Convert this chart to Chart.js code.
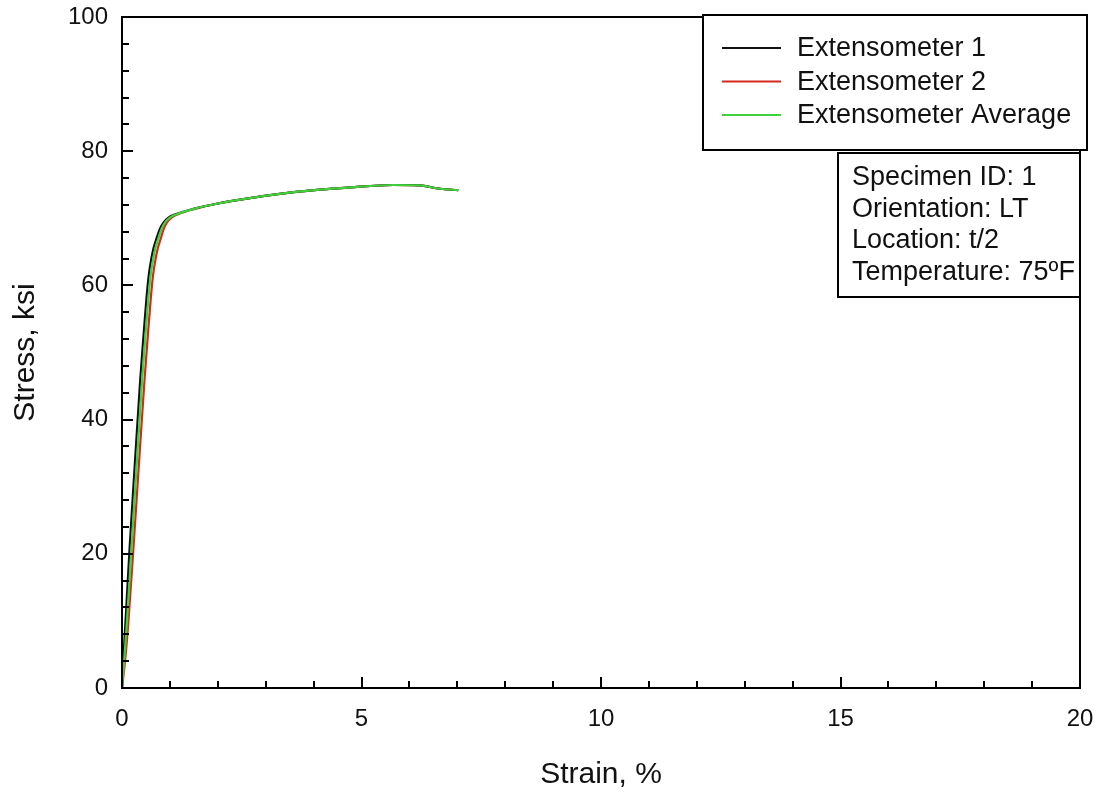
<!DOCTYPE html>
<html>
<head>
<meta charset="utf-8">
<script src="https://cdn.jsdelivr.net/npm/chart.js@4/dist/chart.umd.min.js"></script>
<style>
html,body{margin:0;padding:0;background:#fff;}
canvas{display:block;}
</style>
</head>
<body>
<canvas id="c" width="1101" height="794"></canvas>
<script>
// ---- Data ----
const seriesLabels = ["Extensometer 1", "Extensometer 2", "Extensometer Average"];
const stress      = [0, 4.5, 9.5, 21, 32.5, 45.9, 53.5, 58.0, 61.6, 63.9, 65.6, 67.0, 68.5, 69.4, 70.1, 70.6, 71.4, 72.2, 73.0, 74.0, 74.6, 74.96, 74.9, 74.4, 74.2];
const strainExt1  = [0, 0.03, 0.07, 0.16, 0.26, 0.38, 0.46, 0.51, 0.56, 0.61, 0.66, 0.72, 0.795, 0.87, 0.97, 1.115, 1.49, 2.0, 2.67, 3.72, 4.76, 5.66, 6.2, 6.64, 7.02];
const strainExt2  = [0, 0.07, 0.13, 0.24, 0.345, 0.47, 0.55, 0.60, 0.65, 0.70, 0.75, 0.81, 0.875, 0.94, 1.035, 1.17, 1.52, 2.0, 2.67, 3.72, 4.76, 5.66, 6.2, 6.64, 7.02];
const strainAvg   = [0, 0.05, 0.10, 0.20, 0.30, 0.42, 0.50, 0.55, 0.60, 0.65, 0.70, 0.76, 0.83, 0.90, 1.00, 1.14, 1.50, 2.0, 2.67, 3.72, 4.76, 5.66, 6.2, 6.64, 7.02];
const xTickLabels = [0, 5, 10, 15, 20];
const yTickLabels = [0, 20, 40, 60, 80, 100];
const infoLines   = ["Specimen ID: 1", "Orientation: LT", "Location: t/2", "Temperature: 75\u00BAF"];
const xTitle = "Strain, %";
const yTitle = "Stress, ksi";

const colors = ["#111111", "#d42a1e", "#3fd23c"];
const FONT = "'Liberation Sans', Arial, sans-serif";

function pts(xs, ys){ return xs.map((x,i)=>({x:x, y:ys[i]})); }

const frame = {
  id: 'frame',
  afterDatasetsDraw(chart){
    const ctx = chart.ctx, a = chart.chartArea;
    const xs = chart.scales.x, ys = chart.scales.y;
    ctx.save();
    ctx.strokeStyle = '#000';
    ctx.lineWidth = 2;
    ctx.strokeRect(a.left, a.top, a.right - a.left, a.bottom - a.top);
    ctx.beginPath();
    for (let v = 1; v < 20; v++){
      const px = Math.round(xs.getPixelForValue(v));
      const len = (v % 5 === 0) ? 11 : 7;
      ctx.moveTo(px, a.bottom); ctx.lineTo(px, a.bottom - len);
    }
    for (let v = 4; v < 100; v += 4){
      const py = Math.round(ys.getPixelForValue(v));
      const len = (v % 20 === 0) ? 11 : 7;
      ctx.moveTo(a.left, py); ctx.lineTo(a.left + len, py);
    }
    ctx.stroke();

    // legend box
    const lx = 703, ly = 15, lw = 384, lh = 135;
    ctx.fillStyle = '#fff';
    ctx.fillRect(lx, ly, lw, lh);
    ctx.lineWidth = 2;
    ctx.strokeStyle = '#000';
    ctx.strokeRect(lx, ly, lw, lh);
    ctx.font = "27px " + FONT;
    ctx.textBaseline = 'middle';
    ctx.textAlign = 'left';
    const rows = [48, 81.5, 115];
    chart.data.datasets.forEach((ds, i) => {
      ctx.strokeStyle = ds.borderColor;
      ctx.lineWidth = 2;
      ctx.beginPath();
      ctx.moveTo(722, rows[i]); ctx.lineTo(781, rows[i]);
      ctx.stroke();
      ctx.fillStyle = '#111';
      ctx.fillText(ds.label, 797, rows[i] + 1);
    });

    // info box
    const bx = 838, by = 153, bw = 242, bh = 144;
    ctx.fillStyle = '#fff';
    ctx.fillRect(bx, by, bw, bh);
    ctx.strokeStyle = '#000';
    ctx.lineWidth = 2;
    ctx.strokeRect(bx, by, bw, bh);
    ctx.fillStyle = '#111';
    const irows = [177, 208.5, 240, 271.5];
    infoLines.forEach((t, i) => ctx.fillText(t, 852, irows[i] + 1));
    ctx.restore();
  }
};

new Chart(document.getElementById('c'), {
  type: 'scatter',
  data: {
    datasets: [
      { label: seriesLabels[0], data: pts(strainExt1, stress), borderColor: colors[0], backgroundColor: colors[0], order: 1 },
      { label: seriesLabels[1], data: pts(strainExt2, stress), borderColor: colors[1], backgroundColor: colors[1], order: 2 },
      { label: seriesLabels[2], data: pts(strainAvg, stress),  borderColor: colors[2], backgroundColor: colors[2], order: 0 }
    ].map(d => Object.assign(d, { showLine: true, pointRadius: 0, borderWidth: 2.2, cubicInterpolationMode: 'monotone', fill: false }))
  },
  options: {
    responsive: false,
    animation: false,
    layout: { padding: { left: 0, top: 17, right: 21, bottom: 0 } },
    plugins: { legend: { display: false }, tooltip: { enabled: false } },
    scales: {
      x: {
        type: 'linear', min: 0, max: 20,
        afterBuildTicks(s){ s.ticks = xTickLabels.map(v => ({ value: v })); },
        afterFit(s){ s.height = 106; s.paddingLeft = 0; s.paddingRight = 0; },
        grid: { display: false },
        border: { display: true, color: '#000', width: 2 },
        ticks: { color: '#111', font: { family: FONT, size: 24 }, padding: 9, maxRotation: 0, autoSkip: false },
        title: { display: true, text: xTitle, color: '#111', font: { family: FONT, size: 30 }, padding: { top: 0, bottom: 1 } }
      },
      y: {
        type: 'linear', min: 0, max: 100,
        afterBuildTicks(s){ s.ticks = yTickLabels.map(v => ({ value: v })); },
        afterFit(s){ s.width = 122; s.paddingTop = 0; s.paddingBottom = 0; },
        grid: { display: false },
        border: { display: true, color: '#000', width: 2 },
        ticks: { color: '#111', font: { family: FONT, size: 24 }, padding: 6, autoSkip: false },
        title: { display: true, text: yTitle, color: '#111', font: { family: FONT, size: 30 }, padding: { top: 8, bottom: 0 } }
      }
    }
  },
  plugins: [frame]
});
</script>
</body>
</html>
